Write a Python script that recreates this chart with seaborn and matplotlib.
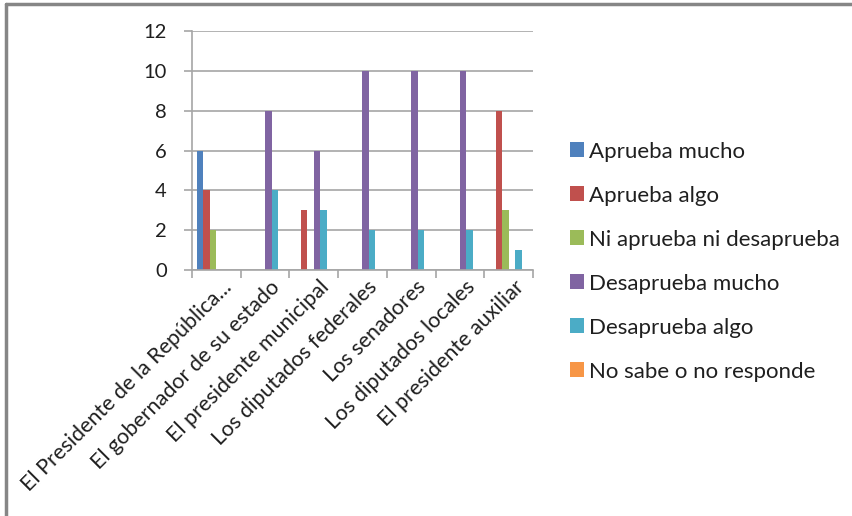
import matplotlib
matplotlib.use("Agg")
import matplotlib.pyplot as plt
from matplotlib.lines import Line2D
from matplotlib.transforms import ScaledTranslation
import seaborn as sns
import pandas as pd

categories = [
    "El Presidente de la República...",
    "El gobernador de su estado",
    "El presidente municipal",
    "Los diputados federales",
    "Los senadores",
    "Los diputados locales",
    "El presidente auxiliar",
]
series = [
    "Aprueba mucho",
    "Aprueba algo",
    "Ni aprueba ni desaprueba",
    "Desaprueba mucho",
    "Desaprueba algo",
    "No sabe o no responde",
]
aprueba_mucho = [6, 0, 0, 0, 0, 0, 0]
aprueba_algo = [4, 0, 3, 0, 0, 0, 8]
ni_aprueba = [2, 0, 0, 0, 0, 0, 3]
desaprueba_mucho = [0, 8, 6, 10, 10, 10, 0]
desaprueba_algo = [0, 4, 3, 2, 2, 2, 1]
no_sabe = [0, 0, 0, 0, 0, 0, 0]
yticks = [0, 2, 4, 6, 8, 10, 12]

colors = ["#4F81BD", "#C0504D", "#9BBB59", "#8064A2", "#4BACC6", "#F79646"]

values = [aprueba_mucho, aprueba_algo, ni_aprueba, desaprueba_mucho, desaprueba_algo, no_sabe]
rows = []
for name, vals in zip(series, values):
    for cat, v in zip(categories, vals):
        rows.append({"categoria": cat, "serie": name, "valor": v})
df = pd.DataFrame(rows)

sns.set_style("white")
plt.rcParams["font.family"] = ["Lato", "DejaVu Sans"]

W, H = 853, 516
fig = plt.figure(figsize=(W / 100, H / 100), dpi=100)
ax = fig.add_axes([192 / W, 1 - 270 / H, (533 - 192) / W, (270 - 31) / H])

sns.barplot(data=df, x="categoria", y="valor", hue="serie", order=categories,
            hue_order=series, palette=colors, width=0.8, saturation=1,
            linewidth=0, ax=ax, legend=True)

grey = "#A6A6A6"
text_col = "#1F1F1F"

ax.set_ylim(0, 12)
ax.set_xlim(-0.5, len(categories) - 0.5)
ax.set_yticks(yticks)
ax.set_yticklabels([str(t) for t in yticks], fontsize=14.5, color=text_col)
ax.yaxis.grid(True, color=grey, linewidth=1.2)
ax.set_axisbelow(True)
ax.set_xlabel("")
ax.set_ylabel("")

for side in ["top", "right"]:
    ax.spines[side].set_visible(False)
for side in ["left", "bottom"]:
    ax.spines[side].set_color(grey)
    ax.spines[side].set_linewidth(1.2)

ax.tick_params(axis="y", which="major", length=6, width=1.2, color=grey,
               left=True, pad=12)

# category labels at centres, tick marks at category boundaries
ax.set_xticks(range(len(categories)))
ax.set_xticklabels(categories, rotation=45, ha="right", va="center",
                   rotation_mode="anchor", fontsize=15.5, color=text_col)
ax.tick_params(axis="x", which="major", length=0, pad=0)
shift = ScaledTranslation(12 / 100, -14 / 100, fig.dpi_scale_trans)
for lab in ax.get_xticklabels():
    lab.set_transform(lab.get_transform() + shift)
ax.set_xticks([i - 0.5 for i in range(len(categories) + 1)], minor=True)
ax.tick_params(axis="x", which="minor", length=6, width=1.2, color=grey,
               bottom=True)

handles, labels = ax.get_legend_handles_labels()
ax.get_legend().remove()
fig.legend(handles, labels, loc="center left",
           bbox_to_anchor=(550 / W, 1 - 261.5 / H), frameon=False,
           fontsize=16, handlelength=0.62, handleheight=0.62,
           handletextpad=0.25, labelspacing=1.08, labelcolor=text_col)

# chart frame: only its top and left edges fall inside the image
frame = dict(transform=fig.transFigure, color="#868686", linewidth=2.5)
fig.add_artist(Line2D([6 / W, 1.0], [1 - 4 / H, 1 - 4 / H], **frame))
fig.add_artist(Line2D([6 / W, 6 / W], [0.0, 1 - 4 / H], **frame))

fig.savefig("out.png", dpi=100, facecolor="white")
